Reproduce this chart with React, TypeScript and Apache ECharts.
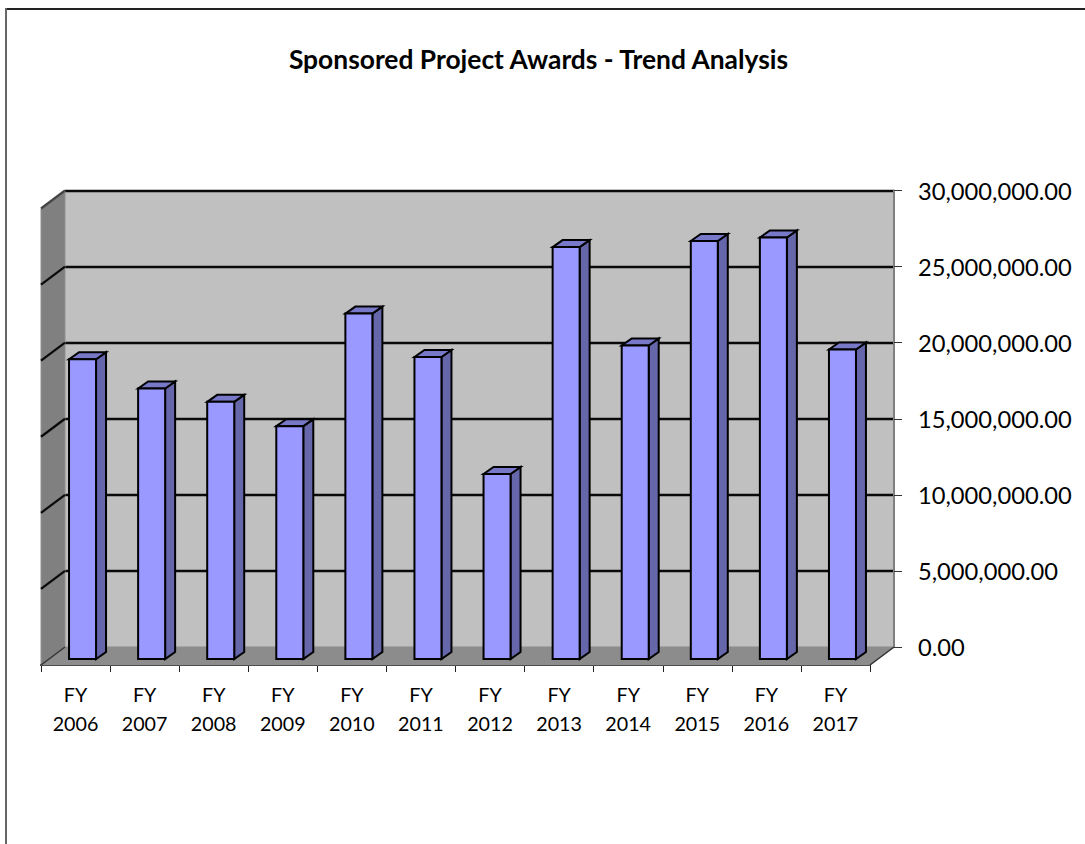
import React, { useEffect, useRef } from "react";
import * as echarts from "echarts";

const TITLE = "Sponsored Project Awards - Trend Analysis";
const categories = ["FY\n2006", "FY\n2007", "FY\n2008", "FY\n2009", "FY\n2010", "FY\n2011", "FY\n2012", "FY\n2013", "FY\n2014", "FY\n2015", "FY\n2016", "FY\n2017"];
const awards = [19700000, 17780000, 16900000, 15300000, 22700000, 19850000, 12160000, 27070000, 20600000, 27470000, 27700000, 20340000];
const wallTicks = [5000000, 10000000, 15000000, 20000000, 25000000, 30000000];

const FONT = "Lato, 'Open Sans', sans-serif";
const D = { x: -24, y: 18 };

export default function App() {
  const ref = useRef<HTMLDivElement>(null);
  useEffect(() => {
    const chart = echarts.init(ref.current!, null, { renderer: "svg" });
    const renderWall = (params: any, api: any) => {
      const base = api.coord([0, 0]);
      const top = api.coord([0, 30000000]);
      const right = api.coord([11, 0]);
      const bw = api.size([1, 0])[0];
      const xl = base[0] - bw / 2;
      const xr = right[0] + bw / 2;
      const children: any[] = [
        { type: "polygon", shape: { points: [[xl, top[1]], [xl + D.x, top[1] + D.y], [xl + D.x, base[1] + D.y], [xl, base[1]]] }, style: { fill: "#808080", stroke: "#8f8f8f", lineWidth: 1 } },
        { type: "polygon", shape: { points: [[xl, base[1]], [xr, base[1]], [xr + D.x, base[1] + D.y], [xl + D.x, base[1] + D.y]] }, style: { fill: "#8c8c8c", stroke: "#8c8c8c", lineWidth: 1 } },
        { type: "line", shape: { x1: xl, y1: base[1], x2: xl + D.x, y2: base[1] + D.y }, style: { stroke: "#333", lineWidth: 1.5 } },
        { type: "line", shape: { x1: xr, y1: base[1], x2: xr + D.x, y2: base[1] + D.y }, style: { stroke: "#333", lineWidth: 1.5 } },
      ];
      wallTicks.forEach((v) => {
        const y = api.coord([0, v])[1];
        children.push({ type: "line", shape: { x1: xl, y1: y, x2: xl + D.x, y2: y + D.y }, style: { stroke: v === 30000000 ? "#444" : "#0a0a0a", lineWidth: 2.2 } });
      });
      return { type: "group", children };
    };
    const renderBar = (params: any, api: any) => {
      const c = api.coord([api.value(0), api.value(1)]);
      const b = api.coord([api.value(0), 0]);
      const w = 27;
      const fx0 = c[0] - 17 - w / 2;
      const fx1 = fx0 + w;
      const fyT = c[1] + 12;
      const fyB = b[1] + 12;
      const ox = 10;
      const oy = 7;
      const stroke = { stroke: "#000", lineWidth: 2, lineJoin: "miter" };
      return {
        type: "group",
        children: [
          { type: "polygon", shape: { points: [[fx1, fyT], [fx1 + ox, fyT - oy], [fx1 + ox, fyB - oy], [fx1, fyB]] }, style: { fill: "#6666aa", ...stroke } },
          { type: "polygon", shape: { points: [[fx0, fyT], [fx0 + ox, fyT - oy], [fx1 + ox, fyT - oy], [fx1, fyT]] }, style: { fill: "#7878c8", ...stroke } },
          { type: "rect", shape: { x: fx0, y: fyT, width: w, height: fyB - fyT }, style: { fill: "#9999ff", ...stroke } },
        ],
      };
    };
    chart.setOption({
      animation: false,
      backgroundColor: "#fff",
      title: {
        text: TITLE,
        left: 533.5,
        top: 41,
        textAlign: "center",
        textStyle: { fontFamily: FONT, fontWeight: "bold", fontSize: 26.4, color: "#000" },
      },
      grid: [
        { left: 65, top: 190.5, width: 829, height: 456.5, show: true, backgroundColor: "#c0c0c0", borderWidth: 0, containLabel: false },
        { left: 41, top: 600, width: 829, height: 65, show: false, containLabel: false },
      ],
      xAxis: [
        { type: "category", gridIndex: 0, data: categories, show: false },
        {
          type: "category",
          gridIndex: 1,
          data: categories,
          position: "bottom",
          axisLine: { show: true, lineStyle: { color: "#111", width: 2 } },
          axisTick: { show: true, alignWithLabel: false, length: 7, lineStyle: { color: "#222", width: 1 } },
          axisLabel: { interval: 0, fontFamily: FONT, fontSize: 19.7, color: "#000", lineHeight: 29, margin: 15 },
        },
      ],
      yAxis: [
        {
          type: "value",
          gridIndex: 0,
          position: "right",
          min: 0,
          max: 30000000,
          interval: 5000000,
          axisLine: { show: true, lineStyle: { color: "#808080", width: 2 } },
          axisTick: { show: true, length: 8, lineStyle: { color: "#333", width: 1 } },
          splitLine: { show: true, showMinLine: false, lineStyle: { color: "#0a0a0a", width: 2.4 } },
          axisLabel: {
            fontFamily: FONT,
            fontSize: 23.7,
            color: "#000",
            margin: 24,
            formatter: (v: number) => v.toLocaleString("en-US", { minimumFractionDigits: 2, maximumFractionDigits: 2 }),
          },
        },
        { type: "value", gridIndex: 1, show: false, min: 0, max: 1 },
      ],
      series: [
        { type: "custom", xAxisIndex: 0, yAxisIndex: 0, data: [[0, 0]], renderItem: renderWall, silent: true, clip: false, z: 1 },
        {
          name: "Awards",
          type: "custom",
          xAxisIndex: 0,
          yAxisIndex: 0,
          data: awards.map((v, i) => [i, v]),
          encode: { x: 0, y: 1 },
          renderItem: renderBar,
          clip: false,
          z: 5,
        },
      ],
    });
    return () => chart.dispose();
  }, []);
  return (
    <div style={{ position: "absolute", left: 0, top: 0, width: 1085, height: 844, overflow: "hidden", background: "#fff" }}>
      <div ref={ref} style={{ position: "absolute", left: 0, top: 0, width: 1085, height: 844 }} />
      <div style={{ position: "absolute", left: 6, top: 8, width: 1079, height: 2, background: "#222", pointerEvents: "none" }} />
      <div style={{ position: "absolute", left: 5, top: 8, width: 2, height: 836, background: "#666", pointerEvents: "none" }} />
    </div>
  );
}
